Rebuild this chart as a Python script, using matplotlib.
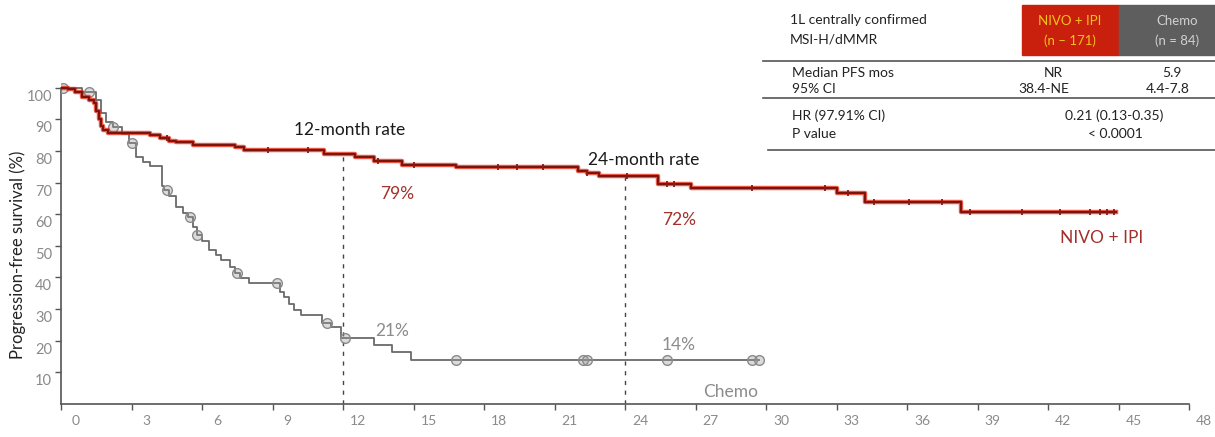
import numpy as np
import matplotlib
matplotlib.use("Agg")
import matplotlib.pyplot as plt
from matplotlib import transforms
from matplotlib.patches import Rectangle
from matplotlib.lines import Line2D

plt.rcParams['font.family'] = ['Lato', 'DejaVu Sans']

# --- Kaplan-Meier step data (months, PFS %) ---
nivo_t = [0, 0.3, 0.6, 0.9, 1.2, 1.4, 1.5, 1.6, 1.7, 1.8, 2.0, 3.8, 4.2, 4.6, 4.9, 5.6,
          7.4, 7.8, 11.2, 12.5, 13.3, 14.5, 16.8, 22.0, 22.4, 22.9, 25.4, 26.8, 33.0, 34.2,
          38.3, 44.9]
nivo_s = [100, 99.5, 98.5, 97, 96, 95, 92.5, 90, 88, 86.5, 85.7, 85.0, 84.1, 83.2, 82.7, 82.0,
          81.3, 80.2, 79, 78, 76.8, 75.6, 74.8, 73.8, 73, 72, 69.5, 68.2, 66.6, 63.8,
          60.8, 60.8]
nivo_censor = [4.5, 8.8, 10.5, 13.5, 15.0, 18.6, 19.4, 20.5, 22.4, 24.1, 25.8, 26.1, 29.4,
               32.5, 33.5, 34.6, 36.1, 37.5, 38.7, 40.9, 42.5, 43.8, 44.2, 44.5, 44.8]

chemo_t = [0, 0.9, 1.5, 1.7, 1.9, 2.2, 2.6, 2.9, 3.2, 3.5, 3.8, 4.3, 4.4, 4.6, 4.9, 5.2,
           5.4, 5.6, 5.8, 6.0, 6.3, 6.6, 6.8, 7.2, 7.4, 7.6, 8.0, 9.3, 9.5, 9.7, 9.9, 10.2,
           11.1, 11.5, 11.9, 13.3, 14.1, 14.9, 29.7]
chemo_s = [100, 98.5, 96, 92, 89, 87.5, 85.5, 82.5, 78, 76.5, 75.3, 69, 67.5, 65.8, 62.3, 60.5,
           59, 56, 53.5, 51.5, 48.7, 47, 45.5, 43.3, 41.5, 39.8, 38.2, 35.5, 33.8, 31.6, 29.7, 28.1,
           25.6, 24.3, 21, 18.5, 16.5, 14, 14]
chemo_censor = [0.1, 1.2, 2.2, 3.0, 4.5, 5.5, 5.8, 7.5, 9.2, 11.3, 12.1, 16.8, 22.2, 22.4,
                25.8, 29.4, 29.7]

landmarks = [12, 24]
nivo_rates = [79, 72]
chemo_rates = [21, 14]

x_ticks = list(range(0, 49, 3))
y_ticks = list(range(10, 101, 10))


def km_at(t_list, s_list, t):
    i = np.searchsorted(t_list, t, side='right') - 1
    return np.asarray(s_list)[i]


fig = plt.figure(figsize=(12.15, 4.37), dpi=100)
ax = fig.add_axes([61 / 1215, 33 / 437, 1128 / 1215, 329 / 437])
ax.set_xlim(0, 48)
ax.set_ylim(0, 104)
ax.patch.set_alpha(0)

# NIVO + IPI: red halo with a dark red core
ax.step(nivo_t, nivo_s, where='post', color='#e4260f', lw=3.2, alpha=0.75, zorder=3)
ax.step(nivo_t, nivo_s, where='post', color='#7a140d', lw=1.5, zorder=4)
ax.plot(nivo_censor, km_at(nivo_t, nivo_s, nivo_censor), ls='none', marker='|',
        ms=4.5, mew=1.3, color='#8a1a12', zorder=5)

# Chemo
ax.step(chemo_t, chemo_s, where='post', color='#6a6a6a', lw=1.3, zorder=2.5)
ax.plot(chemo_censor, km_at(chemo_t, chemo_s, chemo_censor), ls='none', marker='o',
        ms=7, mfc=(0.6, 0.6, 0.6, 0.35), mec='#8a8a8a', mew=1.0, zorder=2.6)

# landmark guides
for lm, r in zip(landmarks, nivo_rates):
    ax.plot([lm, lm], [0, r], ls=(0, (3, 4)), color='#444444', lw=1.0, zorder=2)

# axes styling
for side in ('top', 'right'):
    ax.spines[side].set_visible(False)
ax.spines['left'].set_bounds(0, 100)
for side in ('left', 'bottom'):
    ax.spines[side].set_color('#555555')
    ax.spines[side].set_linewidth(1.2)
ax.set_xticks(x_ticks)
ax.set_yticks(y_ticks)
ax.tick_params(axis='both', colors='#555555', length=4, width=1.0, labelleft=False,
               labelbottom=False)

# tick labels sit a little off their ticks
xlab_tr = transforms.offset_copy(ax.get_xaxis_transform(), fig=fig, x=15, y=-17, units='dots')
for t in x_ticks:
    ax.text(t, 0, str(t), transform=xlab_tr, ha='center', va='center',
            fontsize=10, color='#8a8a8a')
ylab_tr = transforms.offset_copy(ax.get_yaxis_transform(), fig=fig, x=-9, y=-9, units='dots')
for v in y_ticks:
    ax.text(0, v, str(v), transform=ylab_tr, ha='right', va='center',
            fontsize=10.5, color='#8a8a8a')

fig.text(18 / 1215, 1 - 255 / 437, 'Progression-free survival (%)', rotation=90,
         ha='center', va='center', fontsize=12, color='#222222')

# annotations
ax.text(12.3, 86.6, '12-month rate', ha='center', va='center', fontsize=12.5, color='#1a1a1a')
ax.text(24.8, 77.1, '24-month rate', ha='center', va='center', fontsize=12.5, color='#1a1a1a')
ax.text(14.3, 66.4, f'{nivo_rates[0]}%', ha='center', va='center', fontsize=12.5, color='#a3302a')
ax.text(26.3, 58.2, f'{nivo_rates[1]}%', ha='center', va='center', fontsize=12.5, color='#a3302a')
ax.text(14.1, 23.0, f'{chemo_rates[0]}%', ha='center', va='center', fontsize=12.5, color='#8c8c8c')
ax.text(26.3, 18.6, f'{chemo_rates[1]}%', ha='center', va='center', fontsize=12.5, color='#8c8c8c')
ax.text(44.3, 52.5, 'NIVO + IPI', ha='center', va='center', fontsize=12.5, color='#a3302a')
ax.text(28.5, 3.8, 'Chemo', ha='center', va='center', fontsize=12.5, color='#8c8c8c')

# summary table, top right (pixel layout converted to figure fraction)
W, H = 1215, 437


def fx(px):
    return px / W


def fy(py):
    return 1 - py / H


fig.add_artist(Rectangle((fx(1022), fy(55)), fx(97), 50 / H, transform=fig.transFigure,
                         color='#c9200d', zorder=1))
fig.add_artist(Rectangle((fx(1119), fy(55)), fx(96), 50 / H, transform=fig.transFigure,
                         color='#5e5e5e', zorder=1))
for py, x0 in [(61, 763), (98, 763), (150, 768)]:
    fig.add_artist(Line2D([fx(x0), 1], [fy(py), fy(py)], transform=fig.transFigure,
                          color='#555555', lw=1.2))

tkw = dict(fontsize=10, va='center', color='#222222')
fig.text(fx(790), fy(20), '1L centrally confirmed', ha='left', **tkw)
fig.text(fx(790), fy(39), 'MSI-H/dMMR', ha='left', **tkw)
fig.text(fx(1070), fy(21), 'NIVO + IPI', ha='center', fontsize=9.5, va='center', color='#f3c21a')
fig.text(fx(1070), fy(41), '(n – 171)', ha='center', fontsize=9.5, va='center', color='#f3c21a')
fig.text(fx(1177), fy(21), 'Chemo', ha='center', fontsize=9.5, va='center', color='#d0d0d0')
fig.text(fx(1177), fy(41), '(n = 84)', ha='center', fontsize=9.5, va='center', color='#d0d0d0')

fig.text(fx(792), fy(73), 'Median PFS mos', ha='left', **tkw)
fig.text(fx(792), fy(89), '95% CI', ha='left', **tkw)
fig.text(fx(1053), fy(73), 'NR', ha='center', **tkw)
fig.text(fx(1172), fy(73), '5.9', ha='center', **tkw)
fig.text(fx(1044), fy(89), '38.4-NE', ha='center', **tkw)
fig.text(fx(1168), fy(89), '4.4-7.8', ha='center', **tkw)

fig.text(fx(792), fy(116), 'HR (97.91% CI)', ha='left', **tkw)
fig.text(fx(792), fy(134), 'P value', ha='left', **tkw)
fig.text(fx(1114), fy(116), '0.21 (0.13-0.35)', ha='center', **tkw)
fig.text(fx(1115), fy(134), '< 0.0001', ha='center', **tkw)

fig.savefig('out.png', dpi=100)
